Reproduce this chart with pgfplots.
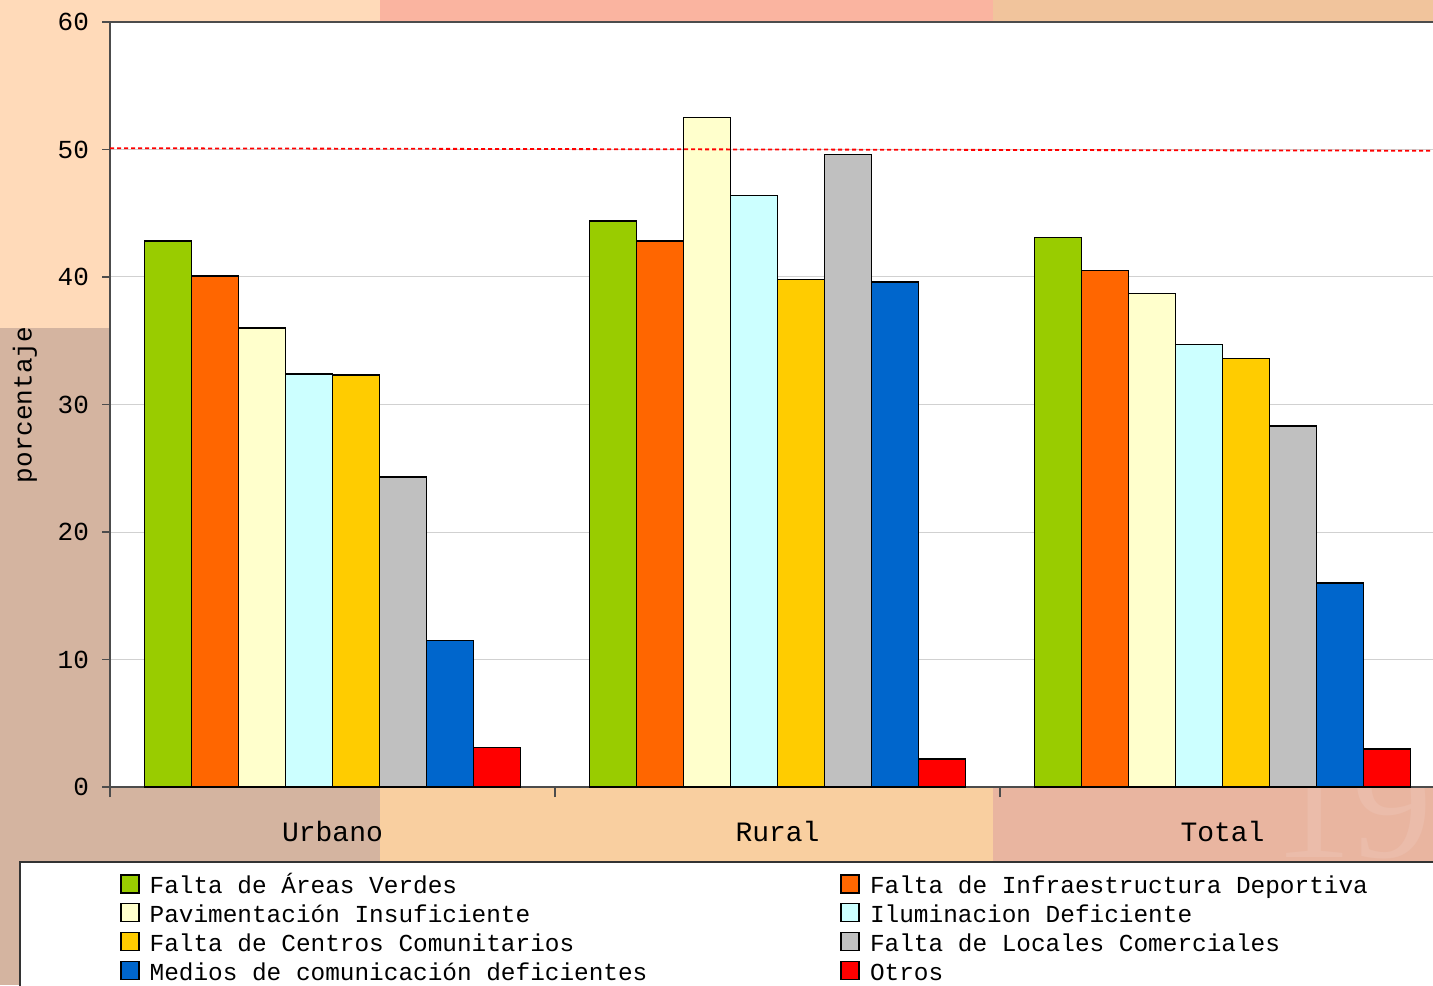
\documentclass[border=0pt]{standalone}
\usepackage{pgfplots}
\pgfplotsset{compat=1.18}
\usepackage{fontspec}
\setmainfont{Liberation Mono}
\newfontfamily\wmfont{Liberation Serif}

\definecolor{cverde}{HTML}{99CC00}
\definecolor{cnaranja}{HTML}{FF6600}
\definecolor{ccrema}{HTML}{FFFFCC}
\definecolor{ccian}{HTML}{CCFFFF}
\definecolor{camarillo}{HTML}{FFCC00}
\definecolor{cgris}{HTML}{C0C0C0}
\definecolor{cazul}{HTML}{0066CC}
\definecolor{crojo}{HTML}{FF0000}

\definecolor{bgbrown}{HTML}{D4B4A0}
\definecolor{bgpeach}{HTML}{FFDAB9}
\definecolor{bgsalmon}{HTML}{FAB4A0}
\definecolor{bgtan}{HTML}{F1C49C}
\definecolor{bgorange}{HTML}{F9CFA0}
\definecolor{bgpink}{HTML}{E9B5A0}

\begin{document}
\begin{tikzpicture}
    \useasboundingbox (0,0) rectangle (716.5pt,492.5pt);
    \clip (0,0) rectangle (716.5pt,492.5pt);

    % fondo de la diapositiva
    \fill[bgbrown] (0,0) rectangle (716.5pt,492.5pt);
    \fill[bgpeach] (0,328.5pt) rectangle (190pt,492.5pt);
    \fill[bgsalmon] (190pt,300pt) rectangle (496.5pt,492.5pt);
    \fill[bgtan] (496.5pt,300pt) rectangle (716.5pt,492.5pt);
    \fill[bgorange] (190pt,61.5pt) rectangle (496.5pt,200pt);
    \fill[bgpink] (496.5pt,61.5pt) rectangle (716.5pt,200pt);
    \begin{scope}
        \clip (496.5pt,61.5pt) rectangle (716.5pt,99pt);
        \node[text=bgpink!90!white, font=\wmfont\fontsize{80}{80}\selectfont,
              anchor=base, inner sep=0pt]
            at (676pt,64pt) {19};
    \end{scope}

    % caja de la leyenda
    \draw[black!80, line width=0.6pt, fill=white] (10pt,-5pt) rectangle (730pt,61.5pt);

    \node[rotate=90, font=\fontsize{13}{13}\selectfont] at (12.5pt,290pt) {porcentaje};

    \begin{axis}[
        at={(55pt,99pt)}, anchor=south west,
        scale only axis,
        width=667.5pt, height=382.5pt,
        ybar=0pt, bar width=23.5pt,
        xmin=-0.5, xmax=2.5,
        ymin=0, ymax=60,
        enlargelimits=false,
        xtick={0,1,2},
        xticklabels={Urbano,Rural,Total},
        minor xtick={-0.5,0.5,1.5,2.5},
        ytick={0,10,...,60},
        /pgf/number format/assume math mode=true,
        ymajorgrids,
        grid style={black!18, line width=0.5pt},
        axis background/.style={fill=white},
        axis line style={black!70, line width=0.6pt},
        tick pos=left,
        tick align=outside,
        major tick length=4pt,
        minor tick length=5pt,
        major x tick style={draw=none},
        minor x tick style={black!70, line width=0.6pt},
        major y tick style={black!70, line width=0.6pt},
        yticklabel style={font=\fontsize{13}{13}\selectfont, xshift=-3pt},
        xticklabel style={font=\fontsize{14}{14}\selectfont, yshift=-9.5pt},
        legend columns=2,
        legend cell align=left,
        legend image code/.code={
            \draw[#1, draw=black, line width=0.8pt] (0pt,-3.2pt) rectangle (9pt,5.8pt);
        },
        legend style={
            at={(0.0075,-0.1137)}, anchor=north west,
            draw=none, fill=none,
            inner sep=0pt, outer sep=0pt,
            row sep=2.25pt,
            font=\fontsize{12.2}{14}\selectfont,
            nodes={inner sep=0pt, text height=9.5pt, text depth=2.5pt},
            /tikz/every odd column/.append style={column sep=5pt},
            /tikz/every even column/.append style={column sep=96.5pt},
        },
    ]
        \addplot[fill=cverde, draw=black, line width=0.8pt]
            coordinates {(0,42.8) (1,44.4) (2,43.1)};
        \addlegendentry{Falta de Áreas Verdes}
        \addplot[fill=cnaranja, draw=black, line width=0.8pt]
            coordinates {(0,40.1) (1,42.8) (2,40.5)};
        \addlegendentry{Falta de Infraestructura Deportiva}
        \addplot[fill=ccrema, draw=black, line width=0.8pt]
            coordinates {(0,36.0) (1,52.5) (2,38.7)};
        \addlegendentry{Pavimentación Insuficiente}
        \addplot[fill=ccian, draw=black, line width=0.8pt]
            coordinates {(0,32.4) (1,46.4) (2,34.7)};
        \addlegendentry{Iluminacion Deficiente}
        \addplot[fill=camarillo, draw=black, line width=0.8pt]
            coordinates {(0,32.3) (1,39.8) (2,33.6)};
        \addlegendentry{Falta de Centros Comunitarios}
        \addplot[fill=cgris, draw=black, line width=0.8pt]
            coordinates {(0,24.3) (1,49.6) (2,28.3)};
        \addlegendentry{Falta de Locales Comerciales}
        \addplot[fill=cazul, draw=black, line width=0.8pt]
            coordinates {(0,11.5) (1,39.6) (2,16.0)};
        \addlegendentry{Medios de comunicación deficientes}
        \addplot[fill=crojo, draw=black, line width=0.8pt]
            coordinates {(0,3.1) (1,2.2) (2,3.0)};
        \addlegendentry{Otros}

        % línea de referencia al 50 %
        \addplot[sharp plot, forget plot, color=crojo, line width=0.9pt,
                 dash pattern=on 2pt off 1.5pt]
            coordinates {(-0.5,50.1) (2.5,49.9)};
    \end{axis}
\end{tikzpicture}
\end{document}
